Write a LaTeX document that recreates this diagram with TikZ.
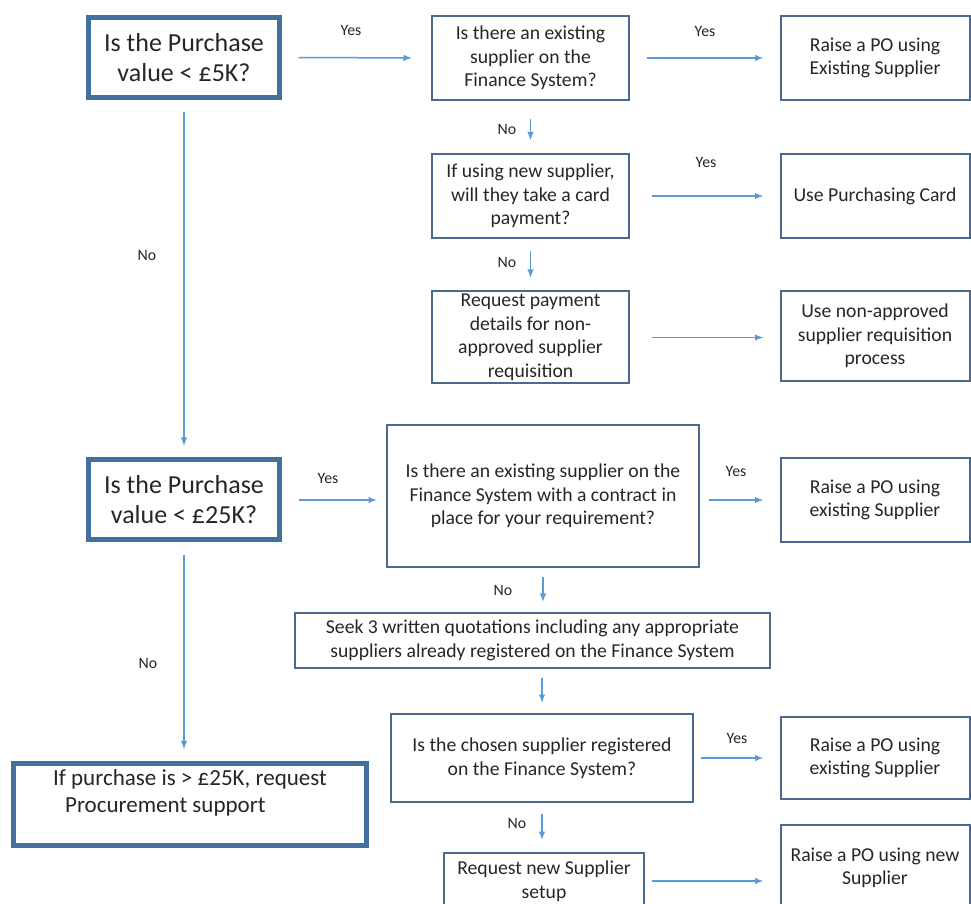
\documentclass[tikz,border=0pt]{standalone}
\usepackage{fontspec}
\setmainfont{Carlito}
\usetikzlibrary{arrows.meta}
\definecolor{qblue}{HTML}{41719C}
\definecolor{boxblue}{HTML}{4A6B8F}
\definecolor{linkblue}{HTML}{5B9BD5}
\definecolor{inkgrey}{HTML}{262626}
\tikzset{
    question/.style={draw=qblue, line width=0.1cm, inner sep=0pt, minimum width=3.82cm, minimum height=1.6cm, align=center, text=inkgrey, font=\fontsize{14.8}{17}\selectfont},
    stepbox/.style={draw=boxblue, line width=0.04cm, inner sep=0pt, minimum width=3.94cm, minimum height=1.68cm, align=center, text=inkgrey, font=\fontsize{11.2}{13.4}\selectfont},
    outcome/.style={stepbox, minimum width=3.78cm},
    flow/.style={linkblue, line width=0.03cm, -{Latex[length=0.17cm,width=0.13cm]}, shorten <=0.25cm, shorten >=0.25cm},
    answer/.style={text=inkgrey, font=\fontsize{9}{10}\selectfont},
}

\begin{document}
\begin{tikzpicture}
        \clip (0,0) rectangle (19.42,-18.08);
        % Purchase value questions down the left.
            \node[question] (q5k) at (3.68,-1.15) {Is the Purchase\\value < £5K?};
            \node[question] (q25k) at (3.68,-10.0) {Is the Purchase\\value < £25K?};
            \node[question, minimum width=7.06cm, minimum height=1.64cm, text depth=0.55cm, align=left, font=\fontsize{13.1}{15.4}\selectfont] (over) at (3.80,-16.09) {If purchase is > £25K, request\\\hspace*{0.24cm}Procurement support};
        % Under 5K branch.
            \node[stepbox] (exist) at (10.61,-1.16) {Is there an existing\\supplier on the\\Finance System?};
            \node[stepbox] (card) at (10.61,-3.92) {If using new supplier,\\will they take a card\\payment?};
            \node[stepbox, minimum height=1.84cm] (details) at (10.61,-6.75) {Request payment\\details for non-\\approved supplier\\requisition};
            \node[outcome] (po1) at (17.5,-1.16) {Raise a PO using\\Existing Supplier};
            \node[outcome] (pcard) at (17.5,-3.92) {Use Purchasing Card};
            \node[outcome, minimum height=1.80cm] (nonappr) at (17.5,-6.72) {Use non-approved\\supplier requisition\\process};
        % Under 25K branch.
            \node[stepbox, minimum width=6.24cm, minimum height=2.84cm] (contract) at (10.86,-9.92) {Is there an existing supplier on the\\Finance System with a contract in\\place for your requirement?};
            \node[stepbox, minimum width=9.5cm, minimum height=1.1cm] (quotes) at (10.65,-12.81) {Seek 3 written quotations including any appropriate\\suppliers already registered on the Finance System};
            \node[stepbox, minimum width=6.04cm, minimum height=1.76cm] (chosen) at (10.84,-15.16) {Is the chosen supplier registered\\on the Finance System?};
            \node[stepbox, minimum width=4.0cm, minimum height=1.12cm] (setup) at (10.88,-17.62) {Request new Supplier\\setup};
            \node[outcome] (po2) at (17.5,-10.0) {Raise a PO using\\existing Supplier};
            \node[outcome, minimum height=1.64cm] (po3) at (17.5,-15.16) {Raise a PO using\\existing Supplier};
            \node[outcome, minimum height=1.72cm] (po4) at (17.5,-17.36) {Raise a PO using new\\Supplier};
        % Connectors.
            \draw[flow, shorten <=0.33cm, shorten >=0.38cm] (q5k.east) -- (exist.west);
            \draw[flow, shorten <=0.34cm, shorten >=0.32cm] (exist.east) -- (po1.west);
            \draw[flow, shorten <=0.36cm] (exist.south) -- (card.north);
            \draw[flow, shorten <=0.44cm, shorten >=0.32cm] (card.east) -- (pcard.west);
            \draw[flow] (card.south) -- (details.north);
            \draw[flow, shorten <=0.44cm, shorten >=0.32cm] (details.east) -- (details.east -| nonappr.west);
            \draw[flow, shorten >=0.23cm] (q5k.south) -- (q25k.north);
            \draw[flow, shorten <=0.33cm, shorten >=0.18cm] (q25k.east) -- (q25k.east -| contract.west);
            \draw[flow, shorten <=0.18cm, shorten >=0.32cm] (contract.east |- po2.west) -- (po2.west);
            \draw[flow, shorten >=0.23cm] (q25k.south) -- (q25k.south |- over.north);
            \draw[flow, shorten <=0.18cm, shorten >=0.2cm] (contract.south) -- (contract.south |- quotes.north);
            \draw[flow, shorten <=0.18cm, shorten >=0.2cm] (quotes.south -| chosen.north) -- (chosen.north);
            \draw[flow, shorten <=0.14cm, shorten >=0.32cm] (chosen.east) -- (po3.west);
            \draw[flow, shorten <=0.22cm, shorten >=0.24cm] (chosen.south) -- (chosen.south |- setup.north);
            \draw[flow, shorten <=0.14cm, shorten >=0.32cm] (setup.east) -- (setup.east -| po4.west);
        % Below nodes are the Yes/No labels.
            \node[answer] (y1) at (7.02,-0.60) {Yes};
            \node[answer] (y2) at (14.10,-0.62) {Yes};
            \node[answer] (n1) at (2.94,-5.10) {No};
            \node[answer] (n2) at (10.14,-2.58) {No};
            \node[answer] (y3) at (14.12,-3.24) {Yes};
            \node[answer] (n3) at (10.14,-5.24) {No};
            \node[answer] (y4) at (6.56,-9.56) {Yes};
            \node[answer] (y5) at (14.72,-9.42) {Yes};
            \node[answer] (n4) at (2.96,-13.26) {No};
            \node[answer] (n5) at (10.06,-11.80) {No};
            \node[answer] (y6) at (14.74,-14.76) {Yes};
            \node[answer] (n6) at (10.34,-16.46) {No};
    \end{tikzpicture}
\end{document}
